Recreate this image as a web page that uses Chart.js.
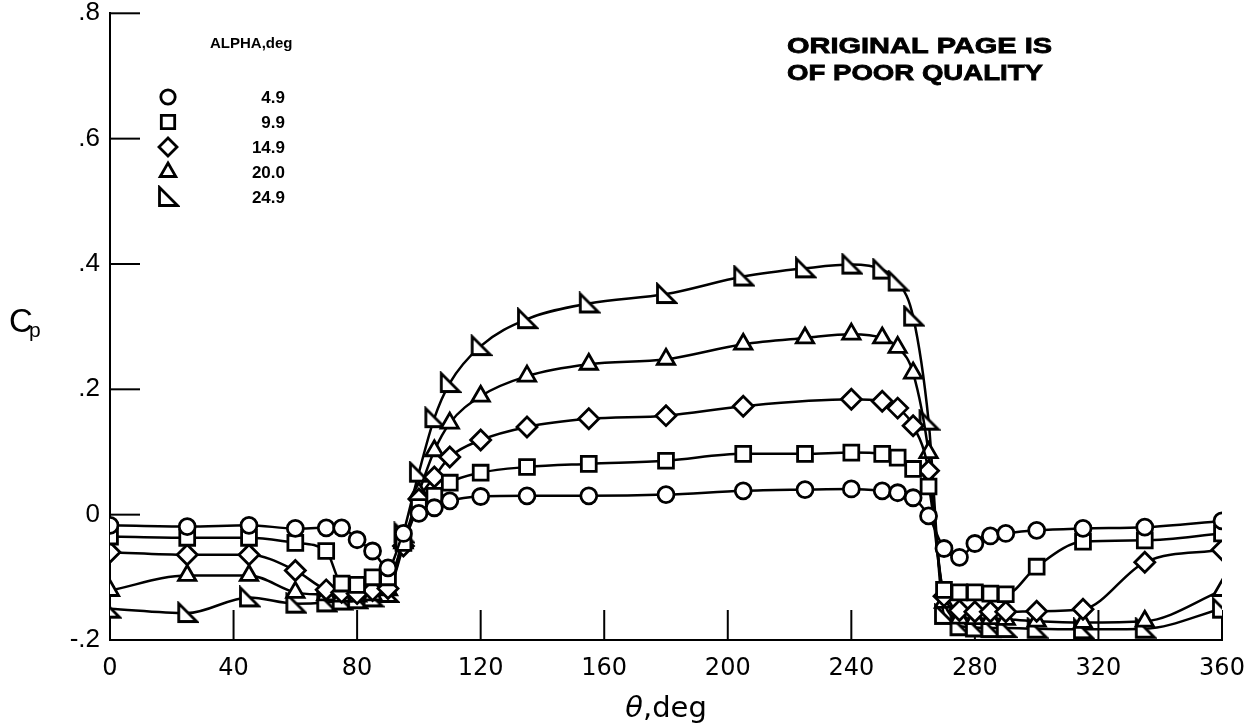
<!DOCTYPE html>
<html><head><meta charset="utf-8">
<script src="https://cdn.jsdelivr.net/npm/chart.js@4/dist/chart.umd.min.js"></script>
<style>html,body{margin:0;padding:0;background:#fff;overflow:hidden}canvas{display:block}</style>
</head><body>
<canvas id="c" width="1251" height="727"></canvas>
<script>
// ---- data ----
const theta = [0,25,45,60,70,75,80,85,90,95,100,105,110,120,135,155,180,205,225,240,250,255,260,265,270,275,280,285,290,300,315,335,360];
const cp_alpha4_9  = [-0.017,-0.019,-0.017,-0.022,-0.021,-0.021,-0.040,-0.058,-0.085,-0.030,0.002,0.011,0.022,0.029,0.030,0.030,0.032,0.038,0.040,0.041,0.038,0.035,0.027,-0.002,-0.054,-0.068,-0.046,-0.034,-0.030,-0.025,-0.022,-0.020,-0.010];
const cp_alpha9_9  = [-0.035,-0.037,-0.037,-0.045,-0.058,-0.110,-0.112,-0.100,-0.100,-0.045,0.012,0.030,0.051,0.067,0.076,0.081,0.086,0.097,0.097,0.099,0.097,0.091,0.073,0.045,-0.120,-0.124,-0.124,-0.126,-0.127,-0.083,-0.043,-0.041,-0.030];
const cp_alpha14_9 = [-0.060,-0.064,-0.064,-0.089,-0.120,-0.124,-0.126,-0.121,-0.118,-0.050,0.025,0.060,0.092,0.119,0.140,0.153,0.158,0.173,null,0.184,0.181,0.170,0.142,0.070,-0.130,-0.153,-0.155,-0.155,-0.155,-0.154,-0.151,-0.076,-0.056];
const cp_alpha20_0 = [-0.121,-0.097,-0.097,-0.124,-0.128,-0.130,-0.130,-0.128,-0.120,-0.045,0.035,0.102,0.146,0.189,0.221,0.240,0.248,0.272,0.282,0.288,0.282,0.267,0.226,0.099,-0.140,-0.165,-0.166,-0.166,-0.167,-0.170,-0.172,-0.170,-0.121];
const cp_alpha24_9 = [-0.150,-0.157,-0.132,-0.142,-0.140,-0.137,-0.135,-0.132,-0.125,-0.030,0.067,0.154,0.210,0.269,0.312,0.337,0.352,0.380,0.393,0.399,0.391,0.372,0.316,0.150,-0.160,-0.178,-0.180,-0.181,-0.181,-0.182,-0.183,-0.182,-0.150];
const alphaLabels = ['4.9','9.9','14.9','20.0','24.9'];
const xTickValues = [0,40,80,120,160,200,240,280,320,360];
const yTickValues = [-0.2,0,0.2,0.4,0.6,0.8];

// ---- styling ----
function rightTriangle(){
  const c=document.createElement('canvas'); c.width=24; c.height=24;
  const g=c.getContext('2d'); g.lineWidth=2.8; g.strokeStyle='#000'; g.fillStyle='#fff';
  g.beginPath(); g.moveTo(3.5,2.5); g.lineTo(3.5,20.5); g.lineTo(21.5,20.5); g.closePath(); g.fill(); g.stroke();
  return c;
}
const styles = ['circle','rect','rectRot','triangle', rightTriangle()];
const radii  = [8, 10.5, 10, 10, 9];
const seriesValues = [cp_alpha4_9, cp_alpha9_9, cp_alpha14_9, cp_alpha20_0, cp_alpha24_9];

const datasets = seriesValues.map((vals,i)=>({
  label: alphaLabels[i],
  data: theta.map((t,j)=>({x:t, y:vals[j]})),
  borderColor:'#000', borderWidth:2.5,
  pointStyle: styles[i], pointRadius: radii[i], pointHoverRadius: radii[i], pointBorderWidth:2.8,
  pointBackgroundColor:'#fff', pointBorderColor:'#000',
  cubicInterpolationMode:'monotone', spanGaps:true, fill:false
}));

function fmtY(v){
  if (Math.abs(v) < 1e-9) return '0';
  const s = Math.abs(v).toFixed(1).replace(/^0/,'');
  return (v<0?'-':'') + s;
}

const decor = {
  id:'decor',
  beforeDatasetsDraw(chart){
    const {ctx, chartArea:a, scales:{x,y}} = chart;
    ctx.save(); ctx.strokeStyle='#000'; ctx.lineWidth=2;
    xTickValues.forEach(v=>{ const px=x.getPixelForValue(v); ctx.beginPath(); ctx.moveTo(px,a.bottom); ctx.lineTo(px,a.bottom-30); ctx.stroke(); });
    yTickValues.forEach(v=>{ const py=y.getPixelForValue(v); ctx.beginPath(); ctx.moveTo(a.left,py); ctx.lineTo(a.left+30,py); ctx.stroke(); });
    ctx.restore();
  },
  afterDraw(chart){
    const ctx = chart.ctx;
    ctx.save();
    ctx.fillStyle='#000';
    // legend title
    ctx.font='bold 15px "Liberation Sans", Arial, sans-serif';
    ctx.textBaseline='middle'; ctx.textAlign='left';
    ctx.fillText('ALPHA,deg', 210, 44);
    // legend rows
    alphaLabels.forEach((lab,i)=>{
      const yy = 97 + i*25;
      ctx.fillStyle='#fff'; ctx.strokeStyle='#000'; ctx.lineWidth=2.8;
      Chart.helpers.drawPoint(ctx,{pointStyle:styles[i], radius:radii[i]*0.9, borderWidth:2.8, rotation:0}, 168, yy);
      ctx.fillStyle='#000';
      ctx.font='bold 17px "Liberation Sans", Arial, sans-serif';
      ctx.textAlign='right'; ctx.textBaseline='middle';
      ctx.fillText(lab, 285, yy+1);
    });
    // stamp text
    ctx.textAlign='left'; ctx.textBaseline='middle';
    ctx.font='bold 22px "Liberation Sans", Arial, sans-serif';
    [['ORIGINAL PAGE IS', 47, 265], ['OF POOR QUALITY', 74, 256]].forEach(([t,yy,w])=>{
      const m = ctx.measureText(t).width;
      ctx.save(); ctx.translate(787, yy); ctx.scale(w/m, 1);
      ctx.lineWidth=0.8; ctx.strokeStyle='#000'; ctx.strokeText(t,0,0);
      ctx.fillText(t, 0, 0); ctx.restore();
    });
    // y axis title C_p
    ctx.textBaseline='alphabetic'; ctx.textAlign='left';
    ctx.font='33px "Liberation Sans", Arial, sans-serif';
    ctx.fillText('C', 9, 332);
    ctx.font='21px "Liberation Sans", Arial, sans-serif';
    ctx.fillText('p', 29, 337);
    // x axis title
    ctx.font='italic 29px "DejaVu Sans", sans-serif';
    const w1 = ctx.measureText('θ').width;
    ctx.font='29px "DejaVu Sans", sans-serif';
    const w2 = ctx.measureText(',deg').width;
    const x0 = 666 - (w1+w2)/2;
    ctx.font='italic 29px "DejaVu Sans", sans-serif';
    ctx.fillText('θ', x0, 717);
    ctx.font='29px "DejaVu Sans", sans-serif';
    ctx.fillText(',deg', x0+w1, 717);
    ctx.restore();
  }
};

new Chart(document.getElementById('c'), {
  type:'line',
  data:{ datasets },
  options:{
    responsive:false, animation:false, devicePixelRatio:1,
    layout:{ padding:{ top:11, right:29, left:0, bottom:0 } },
    plugins:{ legend:{display:false}, tooltip:{enabled:false}, title:{display:false} },
    scales:{
      x:{
        type:'linear', min:0, max:360,
        afterBuildTicks(s){ s.ticks = xTickValues.map(v=>({value:v})); },
        afterFit(s){ s.height = 87; s.paddingLeft=0; s.paddingRight=0; },
        grid:{ display:true, drawOnChartArea:false, drawTicks:false },
        border:{ display:true, color:'#000', width:2 },
        ticks:{ padding:14, color:'#000', maxRotation:0, font:{ family:'"DejaVu Sans", sans-serif', size:24 } }
      },
      y:{
        type:'linear', min:-0.2, max:0.8,
        afterBuildTicks(s){ s.ticks = yTickValues.map(v=>({value:v})); },
        afterFit(s){ s.width = 110; s.paddingTop=0; s.paddingBottom=0; },
        grid:{ display:true, drawOnChartArea:false, drawTicks:false },
        border:{ display:true, color:'#000', width:2 },
        ticks:{ padding:10, color:'#000', callback:(v)=>fmtY(v), font:{ family:'"Liberation Sans", Arial, sans-serif', size:26 } }
      }
    }
  },
  plugins:[decor]
});
</script>
</body></html>
